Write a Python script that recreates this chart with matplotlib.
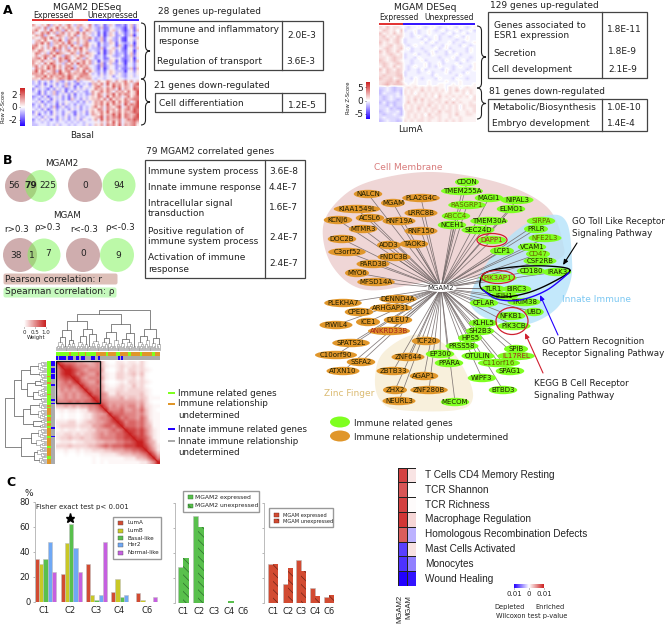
import numpy as np
import matplotlib
matplotlib.use("Agg")
import matplotlib.pyplot as plt
from matplotlib.cm import ScalarMappable
from matplotlib.colors import LinearSegmentedColormap, Normalize, ListedColormap
from matplotlib.patches import Circle, Ellipse, FancyBboxPatch, PathPatch, Polygon, Rectangle
from matplotlib.path import Path

# ---------------------------------------------------------------- data
basal_rows = [
    "754658365746853675484235136422314625", "567483659475864736574326125433204615",
    "685474957638574625865324125634203516", "745869473684756958463514036425313524",
    "576836548764758357643415036523413604", "654785964753684757685236145324104536",
    "467585476953865746724236146325104525", "476958367584963746854415236514323405",
    "785647365867495637853514235416303615", "865747596847358695743326145635204526",
    "658754683746857485634325036524214504", "587463859764586374865415036423314615",
    "574687595638746587465234145323413625", "678594735869745863754234125534213504",
    "765846574863957468573405236514203516", "756485974637584968573526146325304425",
    "684758695747863586744316135423314425", "486759685748693757864315035424213616",
    "695874683957846759485324146533304525", "776857686975867678853425246535324435",
    "577695867686975687764435345244324534", "665867756876975866774344345435434444",
    "352435246325342634456475586475685746", "342514352436253143426758495867586479",
    "423534153426351424535786475968576487", "253431425341342535345867586749476598",
    "341524362351425343247568586476758569", "431524362435251434237586476958687569",
    "234251343524152434356587495867468578", "342435153424163425356675849576586788",
    "435142352435434242535768576958587469", "243524341525342433445768595867496879",
    "342534261352343524346857486579468689", "434251352434253424356587486758578698",
    "253424153424531435257568595768576798", "351434253425341534247658576969587679",
    "434253452435243533445679486879587689", "243534142534243525435749586768468798",
    "344343443443434343444546475958466786", "334443435344343443534657486859476785",
]
luma_rows = [
    "6575665434454345434454354345", "5765647344534454345344534453",
    "7565756443534454443453445344", "6756576443454344534434543544",
    "6675675344443534534444344544", "7565675344445345344453443445",
    "6567566434544443443544435434", "5676567453443444534534444354",
    "7576575443444345344353444354", "6567656344534435444344534444",
    "6656766344354444434445344434", "7656765443445344443544345344",
    "6765676443444534453444534445", "5765756434544534354443454435",
    "7576576434435344443543444345", "6576676344434453444534443544",
    "6766677344444443544444354444", "7667567443543444354443544344",
    "6677686444544454444544454444", "6786777545544454455445454445",
    "3343233565656565655465645655", "2343232656557565656465756565",
    "2433342656465656565565556465", "3234343565665656475656565646",
    "3234323565757565665564655556", "2423233575656566565757565565",
    "3324233656566575656565646566", "3342322656575656656565646556",
    "2343342566565656575665655656", "3233432565656475665565755665",
    "3433334565656566565565565555", "2343323656566565565656565555",
]
corr_lower = [
    "9", "79", "689", "6899", "67889", "567689", "5667679", "46565679", "456565679",
    "5565656679", "66676767789", "445454556679", "1212212255679", "01011012245569",
    "010110122456679", "2223312344556789", "23333233355677689", "121221223355567679",
    "2233232334565667789", "23343343345666677889", "122212233344555667789",
    "3334333344567677788899", "11211212233344555667789", "001001011112222344455679",
    "0000000001011111122244579", "00000000010101111111122469",
]
top_group = "ggggggggoggggogggoggggggoooooogoooooggoooooggooooogooooooggooo"
top_innate = "bgbbbbgbbbggbbgbbggggbbggbgggggggggggbgbgggggggggggggggggggggg"
left_group = "gggggggggogggoggggggoggggggogoooogooogoogooooogooooogoooooggooo"
left_innate = "bbbgbbbgbbbgggbggggggggbgbggggggggggggggbggggbgggggggggggggggg"

subtypes = ["LumA", "LumB", "Basal-like", "Her2", "Normal-like"]
clusters = ["C1", "C2", "C3", "C4", "C6"]
subtype_values = [
    [34, 22, 30, 7.5, 7],
    [30, 47, 5, 18, 1.5],
    [34.5, 62, 1, 3.5, 0],
    [47.5, 43, 5, 5, 0],
    [24, 24, 48, 0, 4],
]
mgam2_expressed = [29, 70, 0, 0, 0]
mgam2_unexpressed = [36, 61, 0, 2, 0]
mgam_expressed = [31, 15, 34.5, 12, 5]
mgam_unexpressed = [31, 28, 26, 6, 6.5]

signature_names = ["T Cells CD4 Memory Resting", "TCR Shannon", "TCR Richness",
                   "Macrophage Regulation", "Homologous Recombination Defects",
                   "Mast Cells Activated", "Monocytes", "Wound Healing"]
sig_mgam2 = [0.85, 0.75, 0.85, 0.9, 0.72, -0.75, -0.8, -1.0]
sig_mgam = [0.12, 0.0, 0.02, 0.18, -0.3, 0.13, -0.5, -0.92]

immune_genes = ["CDON", "TMEM255A", "MAGI1", "NIPAL3", "RASGRP1", "ELMO1", "ABCC4", "TMEM30A",
                "NCEH1", "SEC24D", "SIRPA", "PRLR", "NFE2L3", "DAPP1", "LCP1", "VCAM1", "CD47",
                "CSF2RB", "CD180", "IRAK3", "PIK3AP1", "TLR1", "BIRC3", "IFIH1", "CFLAR",
                "TRIM38", "NFKB1", "UBD", "PIK3CB", "KLHL5", "SH2B3", "HPS5", "PRSS58", "SPIB",
                "IL17REL", "OTULIN", "C11orf16", "EP300", "PPARA", "SPAG1", "WIPF3", "BTBD3",
                "MECOM"]
other_genes = ["TCF20", "ZNF644", "ZBTB33", "AGAP1", "ZHX2", "ZNF280B", "NEURL3", "SPATS2L",
               "C10orf90", "SSFA2", "ATXN10", "PIWIL4", "ICE1", "DLEU7", "ANKRD33B", "CPED1",
               "ARHGAP31", "PLEKHA7", "DENND4A", "NALCN", "MGAM", "PLA2G4C", "LRRC8B",
               "KIAA1549L", "ACSL6", "KCNJ6", "RNF19A", "MTMR3", "RNF150", "DOC2B", "ADD3",
               "TAOK3", "C3orf52", "FNDC3B", "PARD3B", "MYO6", "MFSD14A"]
red_label_genes = ["DAPP1", "PIK3AP1", "IL17REL", "ANKRD33B"]
olive_label_genes = ["RASGRP1", "ABCC4", "SIRPA", "CD47", "NFE2L3", "C11orf16"]

# ---------------------------------------------------------------- layout (pixels)
node_xy = {
    "CDON": (467, 182), "TMEM255A": (462, 191), "MAGI1": (489, 198), "NIPAL3": (517, 200),
    "RASGRP1": (467, 205), "ELMO1": (511, 209), "ABCC4": (456, 216), "TMEM30A": (489, 221),
    "NCEH1": (452, 225), "SEC24D": (478, 230), "SIRPA": (541, 221), "PRLR": (536, 229),
    "NFE2L3": (545, 238), "DAPP1": (492, 240), "LCP1": (502, 251), "VCAM1": (532, 247),
    "CD47": (538, 254), "CSF2RB": (540, 261), "CD180": (531, 271), "IRAK3": (557, 272),
    "PIK3AP1": (498, 278), "TLR1": (493, 289), "BIRC3": (517, 289), "IFIH1": (504, 296),
    "CFLAR": (484, 303), "TRIM38": (524, 302), "NFKB1": (511, 316), "UBD": (534, 312),
    "PIK3CB": (514, 326), "KLHL5": (483, 323), "SH2B3": (480, 331), "HPS5": (470, 338),
    "PRSS58": (462, 346), "SPIB": (516, 349), "IL17REL": (516, 356), "OTULIN": (478, 356),
    "C11orf16": (499, 363), "EP300": (440, 354), "PPARA": (449, 363), "SPAG1": (510, 371),
    "WIPF3": (482, 378), "BTBD3": (503, 390), "MECOM": (455, 402), "TCF20": (426, 341),
    "ZNF644": (408, 357), "ZBTB33": (393, 371), "AGAP1": (424, 376), "ZHX2": (395, 390),
    "ZNF280B": (429, 390), "NEURL3": (399, 401), "SPATS2L": (351, 343), "C10orf90": (336, 355),
    "SSFA2": (361, 362), "ATXN10": (343, 371), "PIWIL4": (336, 325), "ICE1": (368, 322),
    "DLEU7": (398, 320), "ANKRD33B": (389, 331), "CPED1": (359, 312), "ARHGAP31": (391, 308),
    "PLEKHA7": (343, 303), "DENND4A": (398, 299), "NALCN": (368, 194), "MGAM": (393, 203),
    "PLA2G4C": (421, 198), "LRRC8B": (421, 213), "KIAA1549L": (357, 209), "ACSL6": (370, 218),
    "KCNJ6": (338, 220), "RNF19A": (399, 221), "MTMR3": (363, 229), "RNF150": (421, 231),
    "DOC2B": (342, 239), "ADD3": (389, 245), "TAOK3": (414, 244), "C3orf52": (347, 252),
    "FNDC3B": (394, 257), "PARD3B": (373, 264), "MYO6": (357, 273), "MFSD14A": (376, 282),
}
HUB = (441, 288)
W, H = 671, 625
plt.rcParams["font.family"] = "DejaVu Sans"
fig = plt.figure(figsize=(W / 100, H / 100), dpi=100)


def ax_px(x0, y0, x1, y1, **kw):
    return fig.add_axes([x0 / W, 1 - y1 / H, (x1 - x0) / W, (y1 - y0) / H], **kw)


zcmap = LinearSegmentedColormap.from_list("z", ["#2200FF", "#FFFFFF", "#CC2020"])
wcmap = LinearSegmentedColormap.from_list("w", ["#FFFFFF", "#C81E1E"])
INK = "#222222"
STRIP = {"g": "#7FFF20", "o": "#E0962A", "b": "#2200FF", "n": "#ABABAB"}


def digits(rows):
    return np.array([[int(c) for c in r] for r in rows], float)


def heat(box, rows, scale, vmax):
    a = ax_px(*box)
    a.imshow((digits(rows) - 4.5) / 4.5 * scale, cmap=zcmap, vmin=-vmax, vmax=vmax,
             aspect="auto", interpolation="bilinear")
    a.axis("off")


def colorkey(box, norm, cmap, ticks, labels, orient, size):
    c = ax_px(*box)
    cb = fig.colorbar(ScalarMappable(norm=norm, cmap=cmap), cax=c, orientation=orient)
    cb.set_ticks(ticks, labels=labels)
    cb.ax.tick_params(labelsize=size, length=1, width=.4, pad=1, colors=INK)
    if orient == "vertical":
        cb.ax.yaxis.set_ticks_position("left")
    cb.outline.set_visible(False)
    return cb


def strip(box, codes, vertical=False):
    order = "gobn"
    vals = [order.index(c if c in "gob" else "n") for c in codes]
    arr = np.array(vals)[:, None] if vertical else np.array(vals)[None, :]
    a = ax_px(*box)
    a.imshow(arr, cmap=ListedColormap([STRIP[k] for k in order]), vmin=0, vmax=3,
             aspect="auto", interpolation="nearest")
    a.axis("off")


# Panel A heatmaps
heat((32, 24, 139, 126), basal_rows, 3, 4)
heat((379, 26, 475, 122), luma_rows, 4, 9)
colorkey((20, 88, 25, 126), Normalize(-3, 3), zcmap, [-2, 0, 2], ["-2", "0", "2"], "vertical", 6.5)
colorkey((366, 82, 370, 119), Normalize(-7, 7), zcmap, [-5, 0, 5], ["-5", "0", "5"], "vertical", 6.5)

# Panel B correlation heatmap
m = np.zeros((len(corr_lower), len(corr_lower)))
for i, row in enumerate(corr_lower):
    for j, c in enumerate(row[:i + 1]):
        m[i, j] = m[j, i] = int(c) / 9
ac = ax_px(56, 361, 160, 464)
ac.imshow(m ** 1.5, cmap=wcmap, vmin=0, vmax=1, aspect="auto", interpolation="bilinear")
ac.plot([0, 1], [1, 0], transform=ac.transAxes, color="#C81E1E", lw=.9)
ac.axis("off")
strip((56, 352, 160, 356), top_group)
strip((56, 356, 160, 360), top_innate.replace("g", "n"))
strip((47, 361, 51, 464), left_group, True)
strip((51, 361, 55, 464), left_innate.replace("g", "n"), True)
colorkey((24, 320, 46, 327), Normalize(0, 1), wcmap, [0, .5, 1], ["0", "0.5", "1.0"], "horizontal", 4)


def bar_axes(box, xpos, ylabels):
    a = ax_px(*box)
    a.set_xlim(box[0], box[2])
    a.set_ylim(0, 80)
    a.patch.set_alpha(0)
    for s in ("top", "right", "bottom"):
        a.spines[s].set_visible(False)
    a.spines["left"].set_color("#BBBBBB")
    a.spines["left"].set_linewidth(.7)
    a.set_xticks(xpos, clusters)
    a.set_yticks([0, 20, 40, 60, 80], ylabels)
    a.tick_params(axis="x", length=0, labelsize=6, pad=3, colors=INK)
    a.tick_params(axis="y", length=1.5, width=.5, labelsize=6, pad=1.5, color="#999999", labelcolor=INK)
    return a


C_COLORS = ["#D24B32", "#C9C825", "#59C04D", "#6FA8F5", "#C65FE0"]
plt.rcParams["hatch.linewidth"] = .5
a1 = bar_axes((34.5, 501.7, 165, 601.7), [44, 70, 96, 119, 147], ["0", "20", "40", "60", "80"])
group_left = [37, 62.7, 88, 113.3, 138.3]
for k, (vals, col) in enumerate(zip(subtype_values, C_COLORS)):
    a1.bar([g + k * 4.25 for g in group_left], vals, 4.2, color=col, edgecolor="#C0C0C0", lw=.4)

a2 = bar_axes((175, 503, 255, 603), [183, 199, 214, 229, 243], [""] * 5)
a2.bar([180.7, 195.7, 211, 226, 240], mgam2_expressed, 5.2, color="#59C04D", edgecolor="#BBBBBB", lw=.4)
a2.bar([186, 201, 216, 231, 246], mgam2_unexpressed, 5.2, color="#59C04D", edgecolor="#2E6E2E", lw=0, hatch="\\\\\\\\")

a3 = bar_axes((264, 503, 340, 603), [273, 288, 301, 315, 329], [""] * 5)
a3.bar([270.5, 285, 298.5, 312.5, 326], mgam_expressed, 5, color="#D24B32", edgecolor="#BBBBBB", lw=.4)
a3.bar([275.5, 290, 303.5, 317.5, 331], mgam_unexpressed, 5, color="#D24B32", edgecolor="#6E2418", lw=0, hatch="\\\\\\\\")

ah = ax_px(398, 467.5, 416, 586)
ah.pcolormesh(np.array([sig_mgam2, sig_mgam]).T, cmap=zcmap, vmin=-1, vmax=1,
              edgecolors="#222222", linewidth=.7)
ah.invert_yaxis()
ah.axis("off")
colorkey((514, 584, 544, 588), Normalize(-1, 1), zcmap, [-1, 0, 1], ["0.01", "0", "0.01"], "horizontal", 5)

# ---------------------------------------------------------------- overlay in pixel units
ov = fig.add_axes([0, 0, 1, 1], zorder=5)
ov.set_xlim(0, W)
ov.set_ylim(H, 0)
ov.axis("off")


def T(x, y, s, size=6.5, ha="left", color=INK, **kw):
    ov.text(x, y, s, fontsize=size, ha=ha, va="center", color=color, **kw)


def frame(x0, y0, x1, y1, div):
    ov.add_patch(Rectangle((x0, y0), x1 - x0, y1 - y0, fill=False, ec="#444444", lw=.9))
    ov.plot([div, div], [y0, y1], color="#444444", lw=.9)


def smooth(points, closed=False, n=12):
    p = np.array(points, float)
    if closed:
        p = np.vstack([p[-1], p, p[0], p[1]])
    else:
        p = np.vstack([p[0], p, p[-1]])
    out = []
    for i in range(1, len(p) - 2):
        for t in np.linspace(0, 1, n, endpoint=False):
            out.append(.5 * (2 * p[i] + (p[i + 1] - p[i - 1]) * t
                             + (2 * p[i - 1] - 5 * p[i] + 4 * p[i + 1] - p[i + 2]) * t * t
                             + (3 * p[i] - p[i - 1] - 3 * p[i + 1] + p[i + 2]) * t ** 3))
    return np.array(out)


def blob(points, color, alpha, z):
    ov.add_patch(Polygon(smooth(points, True), closed=True, fc=color, ec="none", alpha=alpha, zorder=z))


def brace(x0, x1, y0, y1):
    xm = (x0 + x1) / 2
    ym = (y0 + y1) / 2
    verts = [(x0, y0), (xm, y0), (xm, y0 + 5), (xm, ym - 5), (xm, ym), (x1, ym),
             (xm, ym), (xm, ym + 5), (xm, y1 - 5), (xm, y1), (x0, y1)]
    codes = [Path.MOVETO, Path.CURVE3, Path.CURVE3, Path.LINETO, Path.CURVE3, Path.CURVE3,
             Path.CURVE3, Path.CURVE3, Path.LINETO, Path.CURVE3, Path.CURVE3]
    ov.add_patch(PathPatch(Path(verts, codes), fill=False, ec="#222222", lw=.8))


# Panel A text
T(3, 11, "A", 9, weight="bold", color="black")
T(87, 7, "MGAM2 DESeq", 6.7, ha="center")
T(53, 15, "Expressed", 5.7, ha="center")
T(113, 15, "Unexpressed", 5.7, ha="center")
ov.plot([32, 88], [20, 20], color="#E02020", lw=1.3, solid_capstyle="butt")
ov.plot([88, 139], [20, 20], color="#2200FF", lw=1.3, solid_capstyle="butt")
T(4, 107, "Row Z-Score", 3.8, ha="center", rotation=90)
T(82, 135, "Basal", 6.3, ha="center")
brace(141, 150, 23, 79)
brace(141, 150, 79, 125)
T(158, 12, "28 genes up-regulated", 6.5)
frame(154, 21, 323, 70, 282)
T(158, 30, "Immune and inflammatory", 6.5)
T(158, 41, "response", 6.5)
T(157, 61, "Regulation of transport", 6.5)
T(287, 35, "2.0E-3", 6.5)
T(286, 61, "3.6E-3", 6.5)
T(154, 85, "21 genes down-regulated", 6.5)
frame(155, 93, 325, 112, 282)
T(159, 104, "Cell differentiation", 6.5)
T(288, 105, "1.2E-5", 6.5)

T(425, 8, "MGAM DESeq", 6.7, ha="center")
T(399, 17, "Expressed", 5.5, ha="center")
T(449, 17, "Unexpressed", 5.5, ha="center")
ov.plot([379, 403], [24, 24], color="#E02020", lw=1.3, solid_capstyle="butt")
ov.plot([403, 475], [24, 24], color="#2200FF", lw=1.3, solid_capstyle="butt")
T(348.5, 98, "Row Z-Score", 3.8, ha="center", rotation=90)
T(410, 130, "LumA", 6.3, ha="center")
brace(477, 486, 26, 88)
brace(477, 486, 88, 119)
T(490, 5.5, "129 genes up-regulated", 6.5)
frame(488, 12, 647, 78, 602)
T(494, 25, "Genes associated to", 6.5)
T(494, 36, "ESR1 expression", 6.5)
T(493, 53, "Secretion", 6.5)
T(492, 69, "Cell development", 6.5)
T(607, 30, "1.8E-11", 6.5)
T(608, 52, "1.8E-9", 6.5)
T(608, 70, "2.1E-9", 6.5)
T(489, 92, "81 genes down-regulated", 6.5)
frame(488, 99, 647, 131, 602)
T(492, 108, "Metabolic/Biosynthesis", 6.5)
T(492, 123, "Embryo development", 6.5)
T(607, 108, "1.0E-10", 6.5)
T(607, 123, "1.4E-4", 6.5)

# Panel B venns
T(3, 160, "B", 9, weight="bold", color="black")
PINK = "#CFADAE"
GRN = (.48, .96, .32, .5)
for cx, cy, r, col in [(21, 186, 16, PINK), (41, 186, 16, GRN), (85, 185, 17, PINK), (119, 185, 16.5, GRN),
                       (20, 255, 17, PINK), (44, 255, 16.5, GRN), (83, 255, 17, PINK), (117, 255, 17, GRN)]:
    ov.add_patch(Circle((cx, cy), r, fc=col, ec="none"))
T(62, 163, "MGAM2", 6.3, ha="center")
T(67, 216, "MGAM", 6.3, ha="center")
for x, y, s in [(17, 229, "r>0.3"), (48, 228, "ρ>0.3"), (84, 229, "r<-0.3"), (120, 228, "ρ<-0.3")]:
    T(x, y, s, 6.3, ha="center")
for x, y, s, w in [(14, 186, "56", "normal"), (31, 186, "79", "bold"), (48, 186, "225", "normal"),
                   (85, 186, "0", "normal"), (119, 185, "94", "normal"), (16, 255, "38", "normal"),
                   (32, 255, "1", "normal"), (48, 254, "7", "normal"), (83, 254, "0", "normal"),
                   (118, 255, "9", "normal")]:
    T(x, y, s, 6.5, ha="center", weight=w)
ov.add_patch(FancyBboxPatch((4, 274), 113, 10, boxstyle="round,pad=0.5,rounding_size=2", fc="#DDBFB8", ec="none"))
ov.add_patch(FancyBboxPatch((4, 288), 112, 9, boxstyle="round,pad=0.5,rounding_size=2", fc="#C5F9BD", ec="none"))
T(5, 279, "Pearson correlation: r", 6.5)
T(5, 292, "Spearman correlation: ρ", 6.5)

T(146, 151, "79 MGAM2 correlated genes", 6.5)
frame(145, 160, 305, 278, 265)
for y, s in [(171, "Immune system process"), (187, "Innate immune response"), (203, "Intracellular signal"),
             (214, "transduction"), (231, "Positive regulation of"), (242, "immune system process"),
             (258, "Activation of immune"), (270, "response")]:
    T(148, y, s, 6.5)
for y, s in [(171, "3.6E-8"), (187, "4.4E-7"), (208, "1.6E-7"), (237, "2.4E-7"), (263, "2.4E-7")]:
    T(269, y, s, 6.5)

# Dendrograms
A = (.11, (.07, 0, 0), (.05, 0, 0))
B = (.14, (.09, 0, (.05, 0, 0)), 0)
C = (.20, A, B)
D = (.17, (.09, 0, 0), A)
top_tree = (1.0,
            (.90, (.72, (.50, (.32, C, A), (.26, B, D)), (.52, (.34, C, B), (.40, A, (.22, D, B)))),
             (.66, (.46, (.30, C, D), (.25, A, B)), (.42, (.28, D, C), A))),
            (.52, (.36, C, (.25, B, A)), (.30, D, B)))
left_tree = (1.0,
             (.78, (.60, (.38, C, D), (.46, (.28, B, A), (.32, C, A))), (.56, (.38, D, C), (.32, A, B))),
             (.60, (.36, C, (.24, A, B)), (.30, (.22, B, A), D)))


def leaves(t):
    return 1 if t == 0 else leaves(t[1]) + leaves(t[2])


def dendro(t, start, step, draw):
    if t == 0:
        return start + step / 2, 0
    n = leaves(t[1])
    p1, h1 = dendro(t[1], start, step, draw)
    p2, h2 = dendro(t[2], start + n * step, step, draw)
    draw([p1, p1, p2, p2], [h1, t[0], t[0], h2], t[0])
    return (p1 + p2) / 2, t[0]


def draw_top(p, h, lev):
    ov.plot(p, [350 - v * 40 for v in h], color="#666666" if lev > .25 else "#AAAAAA", lw=.55)


def draw_left(p, h, lev):
    ov.plot([46 - v * 41 for v in h], p, color="#666666" if lev > .25 else "#AAAAAA", lw=.55)


dendro(top_tree, 56, 104 / leaves(top_tree), draw_top)
dendro(left_tree, 361, 103 / leaves(left_tree), draw_left)
ov.add_patch(Rectangle((56, 361), 44, 42, fill=False, ec="#111111", lw=1))
T(36, 337, "Weight", 3.8, ha="center")
for y, col, lines in [(393, "#7FFF20", ["Immune related genes"]),
                      (404, "#E0962A", ["Immune relationship", "undetermined"]),
                      (429, "#2200FF", ["Innate immune related genes"]),
                      (441, "#ABABAB", ["Innate immune relationship", "undetermined"])]:
    ov.add_patch(Rectangle((168, y - 1.2), 7, 2.4, fc=col, ec="none"))
    for k, line in enumerate(lines):
        T(178, y + k * 11.3, line, 6.3)

# Network blobs
blob([(323, 227), (342, 197), (375, 180), (433, 172), (500, 183), (547, 207), (563, 243), (557, 260),
      (500, 275), (433, 281), (367, 290), (333, 267)], "#EFD6D6", 1, 1)
blob([(470, 297), (487, 263), (517, 230), (550, 215), (567, 223), (572, 260), (570, 283), (558, 307),
      (535, 322), (510, 325), (480, 315)], "#B5E3FA", .8, 1.2)
blob([(375, 378), (383, 353), (413, 335), (443, 343), (463, 367), (473, 397), (457, 410), (400, 410), (380, 400)],
     "#F8F0DC", 1, 1.1)
T(408, 167, "Cell Membrane", 6.5, ha="center", color="#D87C7C")
T(597, 299, "Innate Immune", 6.5, ha="center", color="#7CC8F2")
T(349, 394, "Zinc Finger", 6.5, ha="center", color="#DBBB72")

for g in immune_genes + other_genes:
    x, y = node_xy[g]
    ov.plot([HUB[0], x], [HUB[1], y], color="#6E6464", lw=.55, alpha=.85, zorder=2)
for genes, col in [(immune_genes, "#7FFF20"), (other_genes, "#E0962A")]:
    for g in genes:
        x, y = node_xy[g]
        ov.add_patch(Ellipse((x, y), len(g) * 4.5 + 6, 8.4, fc=col, ec="none", zorder=3))
        tc = "#A82020" if g in red_label_genes else "#6A5A00" if g in olive_label_genes else "#1C1C00"
        ov.text(x, y, g, fontsize=5, ha="center", va="center", color=tc, zorder=4)
ov.add_patch(Ellipse(HUB, 31, 8, fc="white", ec="none", zorder=3))
ov.text(*HUB, "MGAM2", fontsize=5, ha="center", va="center", color=INK, zorder=4)

ring = smooth([(570, 270), (547, 266), (513, 267), (487, 272), (480, 282), (483, 290), (500, 297), (527, 293), (553, 282)], True)
ov.plot(ring[:, 0], ring[:, 1], color="black", lw=1, zorder=5)
blue = smooth([(483, 290), (497, 299), (520, 300), (547, 290), (570, 272)])
ov.plot(blue[:, 0], blue[:, 1], color="#2200FF", lw=1, zorder=5)
for c, w_, h_ in [((492, 240), 30, 13), ((498, 277), 33, 13), ((512, 321), 32, 27)]:
    ov.add_patch(Ellipse(c, w_, h_, fill=False, ec="#D02030", lw=.9, zorder=5))


def arrow(start, end, col):
    ov.annotate("", xy=end, xytext=start, zorder=6,
                arrowprops=dict(arrowstyle="-|>,head_width=.13,head_length=.3", color=col, lw=.8,
                                shrinkA=0, shrinkB=0))


arrow((577, 243), (563, 265), "black")
arrow((558, 335), (540, 295), "#2200FF")
arrow((543, 373), (525, 333), "#D02030")
T(572, 222, "GO Toll Like Receptor", 6.3)
T(572, 234, "Signaling Pathway", 6.3)
T(542, 341, "GO Pattern Recognition", 6.3)
T(542, 353, "Receptor Signaling Pathway", 6.3)
T(534, 383, "KEGG B Cell Receptor", 6.3)
T(534, 395, "Signaling Pathway", 6.3)
ov.add_patch(Ellipse((340, 422), 20, 11, fc="#7FFF20", ec="none"))
ov.add_patch(Ellipse((340, 436), 20, 11, fc="#E0962A", ec="none"))
T(354, 423, "Immune related genes", 6.3)
T(354, 437, "Immune relationship undetermined", 6.3)

# Panel C text
T(6, 483, "C", 9, weight="bold", color="black")
T(29, 493, "%", 6.5, ha="center")
T(36, 507, "Fisher exact test p< 0.001", 5.0)
ov.plot([70], [518], marker="*", ms=6.5, color="black", ls="none")


def legend_box(x0, y0, x1, y1):
    ov.add_patch(Rectangle((x0, y0), x1 - x0, y1 - y0, fc="white", ec="#999999", lw=1, zorder=6))


legend_box(113, 517, 161, 559)
for y, name, col in zip([523, 531, 538, 545, 553], subtypes, C_COLORS):
    ov.add_patch(Rectangle((118, y - 2), 5, 4, fc=col, ec="#555555", lw=.3, zorder=7))
    ov.text(128, y, name, fontsize=4.1, va="center", color=INK, zorder=7)
legend_box(183, 491, 259, 512)
for y, name, hatch in [(497, "MGAM2 expressed", None), (506, "MGAM2 unexpressed", "\\\\\\\\")]:
    ov.add_patch(Rectangle((188, y - 2), 5, 4, fc="#59C04D", ec="#2E6E2E", lw=.3, hatch=hatch, zorder=7))
    ov.text(195, y, name, fontsize=4.3, va="center", color=INK, zorder=7)
legend_box(269, 508, 333, 527)
for y, name, hatch in [(515, "MGAM expressed", None), (521, "MGAM unexpressed", "\\\\\\\\")]:
    ov.add_patch(Rectangle((274, y - 2), 4.5, 4, fc="#D24B32", ec="#6E2418", lw=.3, hatch=hatch, zorder=7))
    ov.text(283, y, name, fontsize=3.7, va="center", color=INK, zorder=7)

for k, name in enumerate(signature_names):
    ov.text(425, 475 + k * 14.8, name, fontsize=7.2, va="center", color=INK, family="Liberation Sans")
ov.text(399.5, 609, "MGAM2", fontsize=5.6, rotation=90, ha="center", va="center", color=INK, family="Liberation Sans")
ov.text(408.5, 607, "MGAM", fontsize=5.6, rotation=90, ha="center", va="center", color=INK, family="Liberation Sans")
T(510, 607, "Depleted", 4.8, ha="center")
T(550, 607, "Enriched", 4.8, ha="center")
T(532, 616, "Wilcoxon test p-value", 4.8, ha="center")

fig.savefig("out.png", dpi=100)
